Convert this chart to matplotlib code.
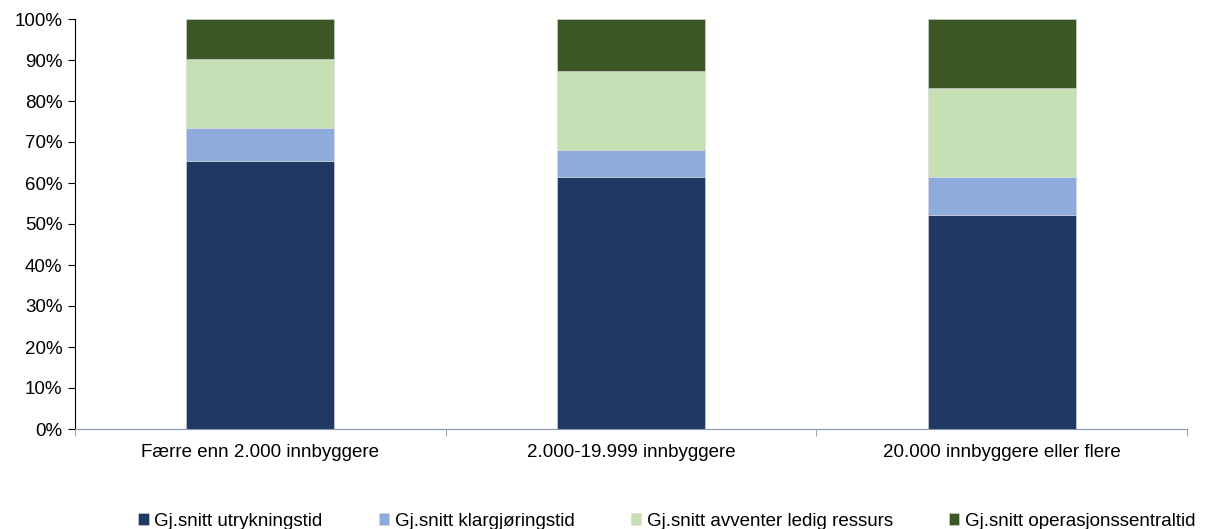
import numpy as np
import matplotlib.pyplot as plt
from matplotlib.ticker import PercentFormatter

plt.rcParams['font.family'] = ['Liberation Sans', 'DejaVu Sans']

categories = ["Færre enn 2.000 innbyggere", "2.000-19.999 innbyggere", "20.000 innbyggere eller flere"]
series_names = ["Gj.snitt utrykningstid", "Gj.snitt klargjøringstid",
                "Gj.snitt avventer ledig ressurs", "Gj.snitt operasjonssentraltid"]
utrykning = [65.4, 61.5, 52.1]
klargjoring = [8.1, 6.5, 9.4]
avventer = [16.7, 19.2, 21.7]
operasjon = [9.8, 12.8, 16.8]
colors = ["#203864", "#8faadc", "#c5e0b4", "#3b5724"]

fig = plt.figure(figsize=(12.08, 5.29), dpi=100)
ax = fig.add_axes([75 / 1208, 1 - 429 / 529, (1187 - 75) / 1208, (429 - 19) / 529])

x = np.arange(len(categories))
bottom = np.zeros(len(categories))
for name, vals, c in zip(series_names, [utrykning, klargjoring, avventer, operasjon], colors):
    ax.bar(x, vals, 0.4, bottom=bottom, color=c, label=name, edgecolor="#d9d9d9", linewidth=0.4)
    bottom += np.array(vals)

ax.set_xlim(-0.5, 2.5)
ax.set_ylim(0, 100)
ax.set_yticks(np.arange(0, 101, 10))
ax.yaxis.set_major_formatter(PercentFormatter(decimals=0))
ax.set_xticks(x)
ax.set_xticklabels(categories)
ax.set_xticks([-0.5, 0.5, 1.5, 2.5], minor=True)
ax.tick_params(axis='x', which='major', length=0, pad=11, labelsize=13.5)
ax.tick_params(axis='x', which='minor', length=5, color="#8497b0")
ax.tick_params(axis='y', length=5, labelsize=13.5, pad=4)

for s in ['top', 'right']:
    ax.spines[s].set_visible(False)
ax.spines['bottom'].set_color("#8497b0")
ax.spines['left'].set_color("black")

ax.legend(loc='center', bbox_to_anchor=(0.5 + 36 / 1112, -0.225), ncol=4, frameon=False,
          fontsize=13.5, handlelength=0.55, handleheight=0.55, handletextpad=0.3,
          columnspacing=3.0)

fig.savefig("out.png", dpi=100)
